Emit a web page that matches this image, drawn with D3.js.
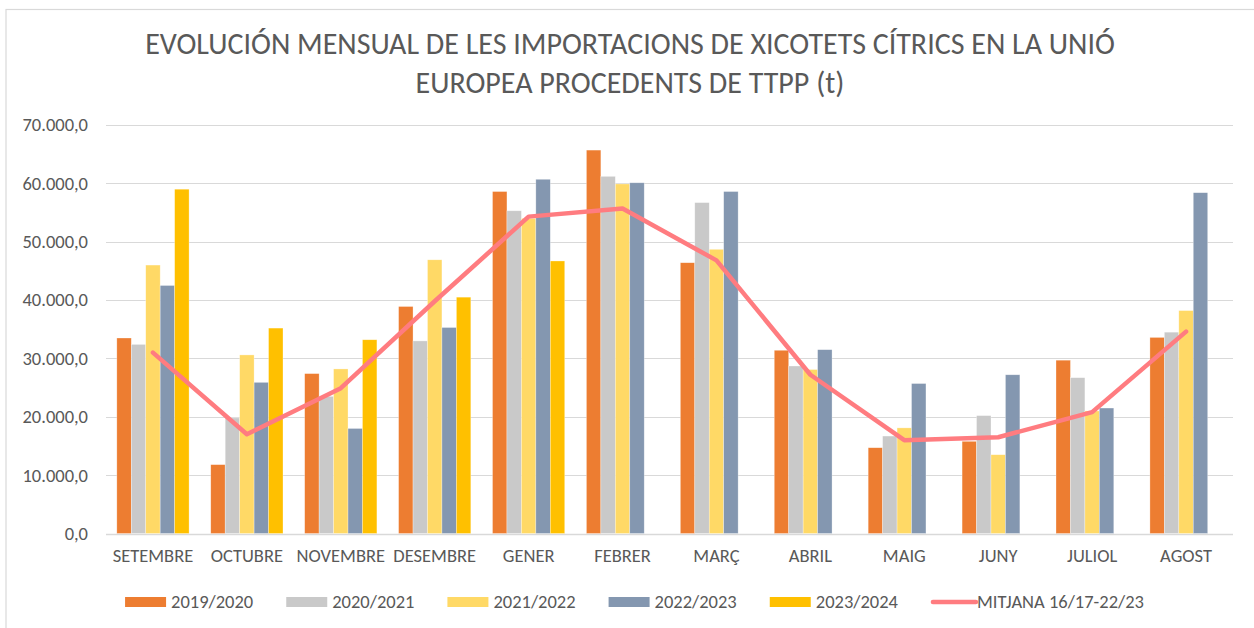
<!DOCTYPE html>
<html>
<head>
<meta charset="utf-8">
<script src="https://cdn.jsdelivr.net/npm/d3@7"></script>
<style>
  html, body { margin: 0; padding: 0; background: #fff; }
  svg { display: block; font-family: Carlito, Calibri, Lato, sans-serif; }
</style>
</head>
<body>
<div id="chart"></div>
<script>
// Months (campaign order)
const months = ['SETEMBRE', 'OCTUBRE', 'NOVEMBRE', 'DESEMBRE', 'GENER', 'FEBRER',
  'MARÇ', 'ABRIL', 'MAIG', 'JUNY', 'JULIOL', 'AGOST'];

// Bar series (t)
const seriesNames = ['2019/2020', '2020/2021', '2021/2022', '2022/2023', '2023/2024'];
const s2019 = [33500, 11800, 27400, 38900, 58600, 65700, 46400, 31400, 14700, 15800, 29700, 33600];
const s2020 = [32400, 19800, 23500, 33000, 55300, 61200, 56700, 28700, 16700, 20200, 26700, 34500];
const s2021 = [46000, 30600, 28200, 46900, 54000, 59900, 48700, 28100, 18100, 13500, 21000, 38200];
const s2022 = [42500, 25900, 18000, 35300, 60700, 60100, 58600, 31500, 25700, 27200, 21500, 58400];
const s2023 = [59000, 35200, 33200, 40500, 46700, null, null, null, null, null, null, null];

// Average line
const avgName = 'MITJANA 16/17-22/23';
const avgValues = [31000, 17000, 24900, 39800, 54300, 55700, 46800, 27200, 16000, 16500, 20800, 34600];

const yTicks = [0, 10000, 20000, 30000, 40000, 50000, 60000, 70000];

const barColors = ['#ED7D31', '#C9C9C9', '#FFD966', '#8497B0', '#FFC000'];
const lineColor = '#FF7C80';
const textColor = '#595959';
const gridColor = '#D9D9D9';
const fontFamily = 'Carlito, Calibri, Lato, sans-serif';
const labelSize = 18.5;

const W = 1254, H = 628;
const plot = { left: 106, right: 1233, top: 125, bottom: 533.5 };

const svg = d3.select('#chart').append('svg')
  .attr('width', W).attr('height', H);

// Chart border (only top/left visible in the crop)
svg.append('rect')
  .attr('x', 6).attr('y', 9.5)
  .attr('width', W + 10).attr('height', H + 10)
  .attr('fill', 'none')
  .attr('stroke', gridColor)
  .attr('stroke-width', 1.2);

// Title
const title = svg.append('text')
  .attr('text-anchor', 'middle')
  .attr('fill', textColor)
  .attr('font-size', 30);
title.append('tspan').attr('x', 630).attr('y', 54)
  .text('EVOLUCIÓN MENSUAL DE LES IMPORTACIONS DE XICOTETS CÍTRICS EN LA UNIÓ');
title.append('tspan').attr('x', 630).attr('y', 93)
  .text('EUROPEA PROCEDENTS DE TTPP (t)');

// Scales
const x = d3.scaleBand()
  .domain(months)
  .range([plot.left, plot.right])
  .paddingInner(1.5 / 6.5)
  .paddingOuter(0.75 / 6.5);

const xSub = d3.scaleBand()
  .domain(seriesNames)
  .range([0, x.bandwidth()]);

const y = d3.scaleLinear()
  .domain([0, 70000])
  .range([plot.bottom, plot.top]);

const fmt = v => d3.format(',.1f')(v).replace(/,/g, '#').replace('.', ',').replace(/#/g, '.');

// Gridlines
svg.append('g')
  .selectAll('line')
  .data(yTicks)
  .join('line')
  .attr('x1', plot.left).attr('x2', plot.right)
  .attr('y1', d => Math.round(y(d)) + 0.5).attr('y2', d => Math.round(y(d)) + 0.5)
  .attr('stroke', gridColor)
  .attr('stroke-width', d => d === 0 ? 1.5 : 1.2);

// Y axis labels
const yAxis = svg.append('g')
  .attr('transform', `translate(${plot.left - 18},0)`)
  .call(d3.axisLeft(y).tickValues(yTicks).tickFormat(fmt).tickSize(0).tickPadding(0));
yAxis.select('.domain').remove();
yAxis.selectAll('text')
  .attr('fill', textColor)
  .attr('font-size', labelSize)
  .attr('font-family', fontFamily);

// X axis labels
const xAxis = svg.append('g')
  .attr('transform', `translate(0,${plot.bottom + 15})`)
  .call(d3.axisBottom(x).tickSize(0).tickPadding(0));
xAxis.select('.domain').remove();
xAxis.selectAll('text')
  .attr('fill', textColor)
  .attr('font-size', labelSize)
  .attr('font-family', fontFamily);

// Bars
const allSeries = [s2019, s2020, s2021, s2022, s2023];
const barData = [];
allSeries.forEach((vals, si) => {
  vals.forEach((v, mi) => {
    if (v != null) barData.push({ month: months[mi], series: seriesNames[si], value: v, color: barColors[si] });
  });
});

svg.append('g')
  .selectAll('rect')
  .data(barData)
  .join('rect')
  .attr('x', d => x(d.month) + xSub(d.series))
  .attr('y', d => y(d.value))
  .attr('width', xSub.bandwidth())
  .attr('height', d => y(0) - y(d.value))
  .attr('fill', d => d.color)
  .attr('stroke', '#fff')
  .attr('stroke-opacity', 0.5)
  .attr('stroke-width', 0.6);

// Average line
const line = d3.line()
  .x((d, i) => x(months[i]) + x.bandwidth() / 2)
  .y(d => y(d));

svg.append('path')
  .datum(avgValues)
  .attr('d', line)
  .attr('fill', 'none')
  .attr('stroke', lineColor)
  .attr('stroke-width', 4.5)
  .attr('stroke-linejoin', 'round')
  .attr('stroke-linecap', 'round');

// Legend
const legendItems = seriesNames.map((n, i) => ({ name: n, color: barColors[i], type: 'bar' }))
  .concat([{ name: avgName, color: lineColor, type: 'line' }]);

const legend = svg.append('g').attr('font-size', labelSize).attr('fill', textColor);
const legendY = 602;
const swW = 41, swGap = 5, itemGap = 33;

const items = legend.selectAll('g')
  .data(legendItems)
  .join('g');

items.each(function (d) {
  const g = d3.select(this);
  if (d.type === 'bar') {
    g.append('rect')
      .attr('x', 0).attr('y', legendY - 5)
      .attr('width', swW).attr('height', 10)
      .attr('fill', d.color);
  } else {
    g.append('line')
      .attr('x1', 2).attr('x2', swW + 4)
      .attr('y1', legendY).attr('y2', legendY)
      .attr('stroke', d.color)
      .attr('stroke-width', 4.5)
      .attr('stroke-linecap', 'round');
  }
  const t = g.append('text')
    .attr('x', d.type === 'bar' ? swW + swGap : swW + 5)
    .attr('y', legendY)
    .attr('dy', '0.35em')
    .text(d.name);
  d.w = (d.type === 'bar' ? swW + swGap : swW + 5) + t.node().getComputedTextLength();
});

const total = d3.sum(legendItems, d => d.w) + itemGap * (legendItems.length - 1);
let cx = 634.5 - total / 2;
items.attr('transform', d => {
  const tx = cx;
  cx += d.w + itemGap;
  return `translate(${tx},0)`;
});
</script>
</body>
</html>
